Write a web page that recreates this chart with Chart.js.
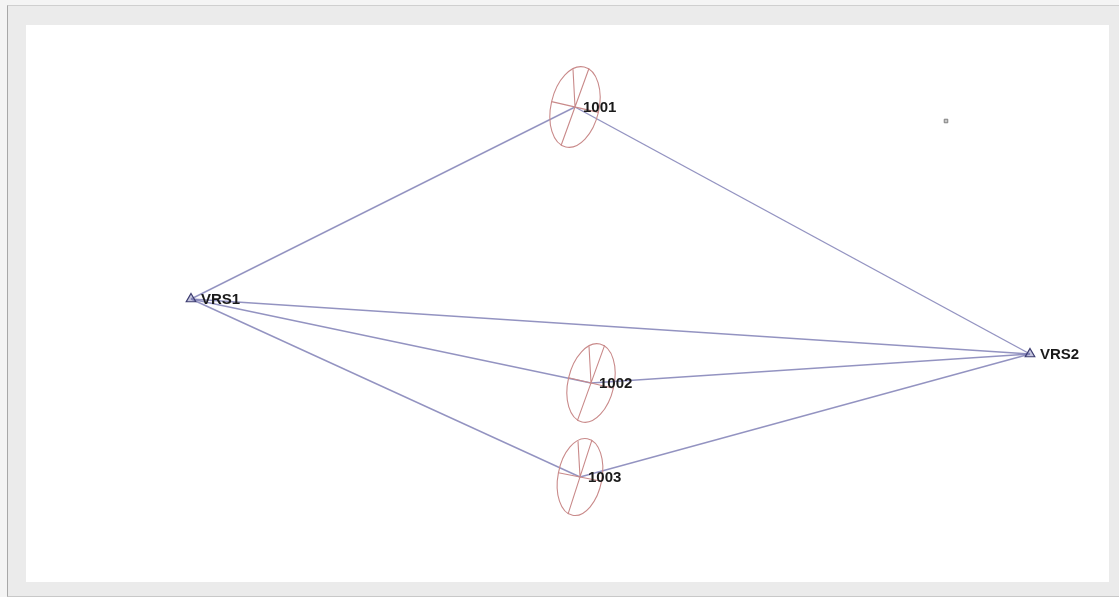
<!DOCTYPE html>
<html>
<head>
<meta charset="utf-8">
<script src="https://cdn.jsdelivr.net/npm/chart.js@4.4.0/dist/chart.umd.min.js"></script>
<style>
  html, body { margin: 0; padding: 0; }
  body { width: 1119px; height: 597px; background: #f4f4f4; position: relative; overflow: hidden; }
  #frame { position: absolute; left: 7px; top: 5px; width: 1112px; height: 590px;
           background: #ebebeb; border-left: 1px solid #a8a8a8; border-top: 1px solid #cfcfcf; border-bottom: 1px solid #c8c8c8; }
  #panel { position: absolute; left: 26px; top: 25px; width: 1083px; height: 557px; background: #fff; }
</style>
</head>
<body>
<div id="frame"></div>
<div id="panel"><canvas id="net"></canvas></div>
<script>
// stations (local plot coordinates, y up)
const stationNames = ["VRS1", "VRS2"];
const stationX = [165, 1004];
const stationY = [283, 228];

// adjusted points with error ellipses
const pointNames = ["1001", "1002", "1003"];
const pointX = [549, 565, 554];
const pointY = [475, 199, 105];
const semiMajor = [41, 40, 39];
const semiMinor = [24, 23, 22];
const tiltDeg = [13, 13, 11];   // clockwise from vertical

// observed baselines
const baselineFrom = ["VRS1", "1001", "VRS1", "VRS1", "1002", "VRS1", "1003"];
const baselineTo   = ["1001", "VRS2", "VRS2", "1002", "VRS2", "1003", "VRS2"];

// stray marker
const markerX = [920];
const markerY = [461];

function coords(name) {
  let i = stationNames.indexOf(name);
  if (i >= 0) return { x: stationX[i], y: stationY[i] };
  i = pointNames.indexOf(name);
  return { x: pointX[i], y: pointY[i] };
}

const lineColor = "rgba(120,120,178,0.8)";
const ellipseColor = "#c98a8a";

const datasets = baselineFrom.map((f, i) => ({
  type: "line",
  data: [coords(f), coords(baselineTo[i])],
  borderColor: lineColor,
  borderWidth: 1.4,
  pointRadius: 0,
  showLine: true,
  order: 3
}));

datasets.push({
  type: "scatter",
  data: stationX.map((x, i) => ({ x: x, y: stationY[i] })),
  pointStyle: "triangle",
  pointRadius: 5.5,
  backgroundColor: "rgba(140,140,190,0.5)",
  borderColor: "#3c3c70",
  borderWidth: 1.2,
  order: 1
});

datasets.push({
  type: "scatter",
  data: markerX.map((x, i) => ({ x: x, y: markerY[i] })),
  pointStyle: "rect",
  pointRadius: 2.5,
  backgroundColor: "#c8c8c8",
  borderColor: "#808080",
  borderWidth: 1,
  order: 1
});

const ellipsePlugin = {
  id: "ellipses",
  afterDatasetsDraw(chart) {
    const ctx = chart.ctx, sx = chart.scales.x, sy = chart.scales.y;
    const kx = Math.abs(sx.getPixelForValue(1) - sx.getPixelForValue(0));
    const ky = Math.abs(sy.getPixelForValue(1) - sy.getPixelForValue(0));
    ctx.save();
    ctx.strokeStyle = ellipseColor;
    ctx.lineWidth = 1.1;
    pointNames.forEach((n, i) => {
      const cx = sx.getPixelForValue(pointX[i]);
      const cy = sy.getPixelForValue(pointY[i]);
      const a = semiMajor[i] * ky, b = semiMinor[i] * kx;
      const t = tiltDeg[i] * Math.PI / 180;
      ctx.beginPath();
      ctx.ellipse(cx, cy, b, a, t, 0, Math.PI * 2);
      ctx.stroke();
      // major axis, a bit more tilted than the outline
      const t2 = t + 0.12;
      const mx = Math.sin(t2) * a, my = -Math.cos(t2) * a;
      ctx.beginPath();
      ctx.moveTo(cx - mx, cy - my);
      ctx.lineTo(cx + mx, cy + my);
      // minor axis
      const nx = Math.cos(t) * b, ny = Math.sin(t) * b;
      ctx.moveTo(cx - nx, cy - ny);
      ctx.lineTo(cx + nx, cy + ny);
      // height line
      ctx.moveTo(cx, cy);
      ctx.lineTo(cx - 2, cy - a * 0.92);
      ctx.stroke();
    });
    ctx.restore();
  }
};

const labelPlugin = {
  id: "labels",
  afterDatasetsDraw(chart) {
    const ctx = chart.ctx, sx = chart.scales.x, sy = chart.scales.y;
    ctx.save();
    ctx.fillStyle = "#1a1a1a";
    ctx.font = "bold 15px 'Liberation Sans', Arial, sans-serif";
    ctx.textBaseline = "middle";
    ctx.textAlign = "left";
    stationNames.forEach((n, i) => {
      ctx.fillText(n, sx.getPixelForValue(stationX[i]) + 10, sy.getPixelForValue(stationY[i]) + 1);
    });
    pointNames.forEach((n, i) => {
      ctx.fillText(n, sx.getPixelForValue(pointX[i]) + 8, sy.getPixelForValue(pointY[i]) + 1);
    });
    ctx.restore();
  }
};

new Chart(document.getElementById("net"), {
  data: { datasets: datasets },
  options: {
    responsive: true,
    maintainAspectRatio: false,
    animation: false,
    layout: { padding: 0, autoPadding: false },
    plugins: { legend: { display: false }, tooltip: { enabled: false } },
    scales: {
      x: { type: "linear", min: 0, max: 1083, display: false },
      y: { type: "linear", min: 0, max: 557, display: false }
    }
  },
  plugins: [ellipsePlugin, labelPlugin]
});
</script>
</body>
</html>
